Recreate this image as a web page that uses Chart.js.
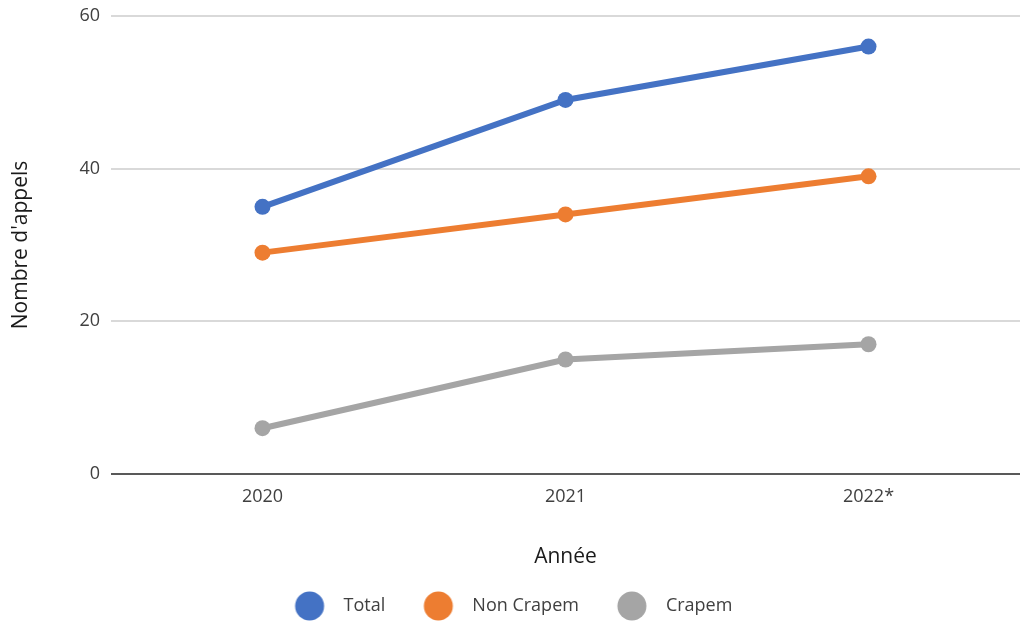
<!DOCTYPE html>
<html>
<head>
<meta charset="utf-8">
<script src="https://cdn.jsdelivr.net/npm/chart.js@4.4.1/dist/chart.umd.min.js"></script>
<style>
  html, body { margin: 0; padding: 0; background: #ffffff; }
  #wrap { width: 1020px; height: 621px; }
</style>
</head>
<body>
<div id="wrap"><canvas id="c" width="1020" height="621"></canvas></div>
<script>
// ---- data ----
const categories = ["2020", "2021", "2022*"];
const seriesNames = ["Total", "Non Crapem", "Crapem"];
const totalValues = [35, 49, 56];
const nonCrapemValues = [29, 34, 39];
const crapemValues = [6, 15, 17];
const yTicks = [0, 20, 40, 60];
const xTitle = "Année";
const yTitle = "Nombre d'appels";

// ---- styles ----
const colors = ["#4472C4", "#ED7D31", "#A5A5A5"];
const FONT = "'Open Sans', 'Segoe UI', sans-serif";
const LEGEND_BOX_W = 71;
const RIGHT_OVERHANG = -4;

function legendImage(color) {
  const cv = document.createElement('canvas');
  cv.width = LEGEND_BOX_W; cv.height = 30;
  const g = cv.getContext('2d');
  g.fillStyle = color;
  g.beginPath();
  g.arc(LEGEND_BOX_W - 25, 15, 14.5, 0, Math.PI * 2);
  g.fill();
  return cv;
}
const legendImgs = colors.map(legendImage);

const legendShift = {
  id: 'legendShift',
  afterLayout(chart) {
    const lg = chart.legend;
    if (!lg) return;
    lg.left += -14;
    lg.right += -14;
  }
};

const seriesValues = [totalValues, nonCrapemValues, crapemValues];
const datasets = seriesNames.map((name, i) => ({
  label: name,
  data: seriesValues[i],
  borderColor: colors[i],
  backgroundColor: colors[i],
  pointBackgroundColor: colors[i],
  pointBorderColor: colors[i],
  borderWidth: 6,
  pointRadius: 8,
  pointHoverRadius: 8,
  pointBorderWidth: 0,
  tension: 0,
  fill: false
}));

new Chart(document.getElementById('c'), {
  type: 'line',
  data: { labels: categories, datasets },
  plugins: [legendShift],
  options: {
    responsive: false,
    animation: false,
    layout: { autoPadding: false, padding: { top: 16, right: RIGHT_OVERHANG, bottom: -4, left: 0 } },
    plugins: {
      tooltip: { enabled: false },
      legend: {
        position: 'bottom',
        labels: {
          usePointStyle: true,
          pointStyleWidth: LEGEND_BOX_W,
          padding: 7,
          color: '#404040',
          font: { family: FONT, size: 18 },
          generateLabels(chart) {
            const items = Chart.defaults.plugins.legend.labels.generateLabels(chart);
            items.forEach((it, i) => { it.pointStyle = legendImgs[i]; it.lineWidth = 0; });
            return items;
          }
        }
      }
    },
    scales: {
      x: {
        offset: true,
        grid: { display: false, drawTicks: false },
        border: { display: false },
        ticks: { color: '#404040', font: { family: FONT, size: 18 }, padding: 12 },
        title: {
          display: true, text: xTitle, color: '#1a1a1a',
          font: { family: FONT, size: 21 },
          padding: { top: 0, bottom: 20 }
        },
        afterFit(scale) { scale.height = 116; scale.paddingLeft = 0; scale.paddingRight = RIGHT_OVERHANG; }
      },
      y: {
        min: 0, max: 60,
        afterBuildTicks(scale) { scale.ticks = yTicks.map(v => ({ value: v })); },
        grid: {
          drawTicks: false,
          lineWidth: 2,
          color: ctx => (ctx.tick && ctx.tick.value === 0) ? '#595959' : '#d9d9d9'
        },
        border: { display: false },
        ticks: { color: '#404040', font: { family: FONT, size: 18, lineHeight: 0.5 }, padding: 11 },
        title: {
          display: true, text: yTitle, color: '#1a1a1a',
          font: { family: FONT, size: 21 },
          padding: { top: 8, bottom: 0 }
        },
        afterFit(scale) { scale.width = 111; scale.paddingRight = RIGHT_OVERHANG; }
      }
    }
  }
});
</script>
</body>
</html>
